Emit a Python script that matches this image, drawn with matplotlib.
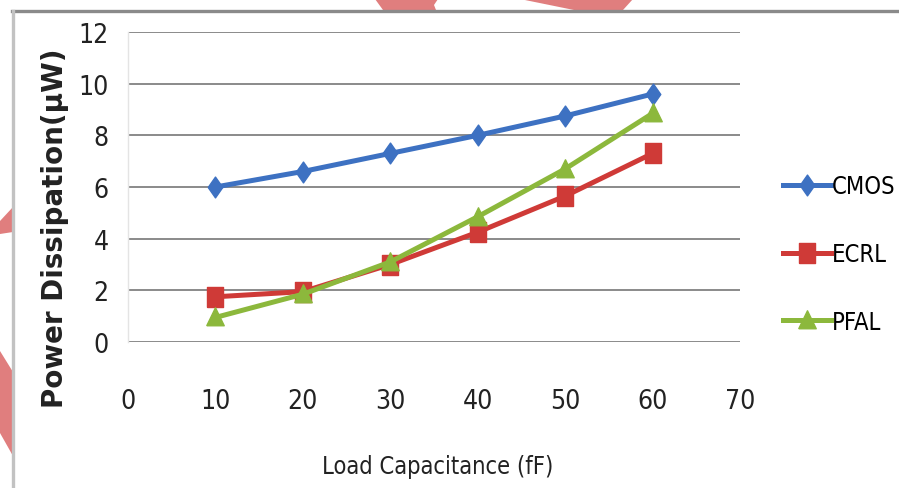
import matplotlib
matplotlib.use("Agg")
import matplotlib.pyplot as plt
from matplotlib import font_manager
from matplotlib.patches import Polygon
from matplotlib.lines import Line2D

# Load capacitance (fF) and power dissipation (uW) for each logic style
load_cap = [10, 20, 30, 40, 50, 60]
cmos = [6.0, 6.6, 7.3, 8.0, 8.75, 9.6]
ecrl = [1.75, 1.95, 3.0, 4.25, 5.65, 7.3]
pfal = [0.95, 1.85, 3.1, 4.85, 6.7, 8.85]
series_names = ["CMOS", "ECRL", "PFAL"]
x_ticks = [0, 10, 20, 30, 40, 50, 60, 70]
y_ticks = [0, 2, 4, 6, 8, 10, 12]

W, H = 899, 489
fig = plt.figure(figsize=(W / 100, H / 100), dpi=100)
fig.patch.set_facecolor("white")

tick_font = font_manager.FontProperties(family="DejaVu Sans", stretch="condensed", size=19)
legend_font = font_manager.FontProperties(family="DejaVu Sans", stretch="condensed", size=17)
xlabel_font = font_manager.FontProperties(family="DejaVu Sans", stretch="condensed", size=17)

# tall, narrow marker outlines
diamond = [(-0.7, 0), (0, 1), (0.7, 0), (0, -1), (-0.7, 0)]
tall_square = [(-0.75, -1), (0.75, -1), (0.75, 1), (-0.75, 1), (-0.75, -1)]
triangle = [(-0.9, -0.85), (0.9, -0.85), (0, 1), (-0.9, -0.85)]


def px(x, y):
    return (x / W, 1 - y / H)


# outer frame and decorative pink shapes
for pts in [
    [(375, 0), (438, 0), (434, 6), (436, 11), (383, 11)],
    [(520, 0), (633, 0), (623, 11), (574, 11)],
    [(0, 222), (13, 208), (13, 233), (0, 235)],
    [(0, 352), (13, 373), (13, 457), (0, 434)],
]:
    fig.patches.append(Polygon([px(*p) for p in pts], closed=True,
                               transform=fig.transFigure,
                               facecolor="#e07e7e", edgecolor="none", zorder=0))
fig.lines.append(Line2D([12 / W, 1], [1 - 12 / H] * 2, transform=fig.transFigure,
                        color="#8a8a8a", lw=2.4))
fig.lines.append(Line2D([13 / W] * 2, [1 - 12 / H, 0], transform=fig.transFigure,
                        color="#c2c2c2", lw=2.4))

left, right, top, bottom = 128, 740, 33, 343
ax = fig.add_axes([left / W, 1 - bottom / H, (right - left) / W, (bottom - top) / H])
ax.set_xlim(0, 70)
ax.set_ylim(0, 12)
ax.set_xticks(x_ticks)
ax.set_yticks(y_ticks)
ax.set_xticklabels([str(v) for v in x_ticks], fontproperties=tick_font, color="#222222")
ax.set_yticklabels([str(v) for v in y_ticks], fontproperties=tick_font, color="#222222")
ax.tick_params(axis="both", length=0)
ax.tick_params(axis="y", pad=14)
ax.tick_params(axis="x", pad=33)
for s in ["top", "right", "bottom"]:
    ax.spines[s].set_visible(False)
ax.spines["left"].set_color("#e4e4e4")
ax.spines["left"].set_linewidth(1)
ax.yaxis.grid(True, color="#8a8a8a", lw=1.4)
ax.set_axisbelow(True)

styles = [
    (cmos, "#3d71c2", diamond, 15),
    (ecrl, "#cf3a37", tall_square, 15),
    (pfal, "#8cb83c", triangle, 14),
]
for (vals, col, mk, ms), name in zip(styles, series_names):
    ax.plot(load_cap, vals, color=col, lw=3.6, marker=mk, markersize=ms,
            markeredgecolor=col, markerfacecolor=col, label=name, clip_on=False)

leg = ax.legend(loc="center left", bbox_to_anchor=(783 / W, 1 - 255 / H),
                bbox_transform=fig.transFigure, frameon=False,
                prop=legend_font, handlelength=2.05,
                handletextpad=0.0, labelspacing=1.85, borderaxespad=0,
                borderpad=0)

fig.text(*px(55, 228), "Power Dissipation(\u00b5W)", rotation=90, ha="center",
         va="center", fontsize=20, fontweight="bold", family="DejaVu Sans",
         color="#222222")
fig.text(*px(438, 467), "Load Capacitance (fF)", ha="center", va="center",
         fontproperties=xlabel_font, color="#222222")

fig.savefig("out.png", dpi=100, facecolor="white")
